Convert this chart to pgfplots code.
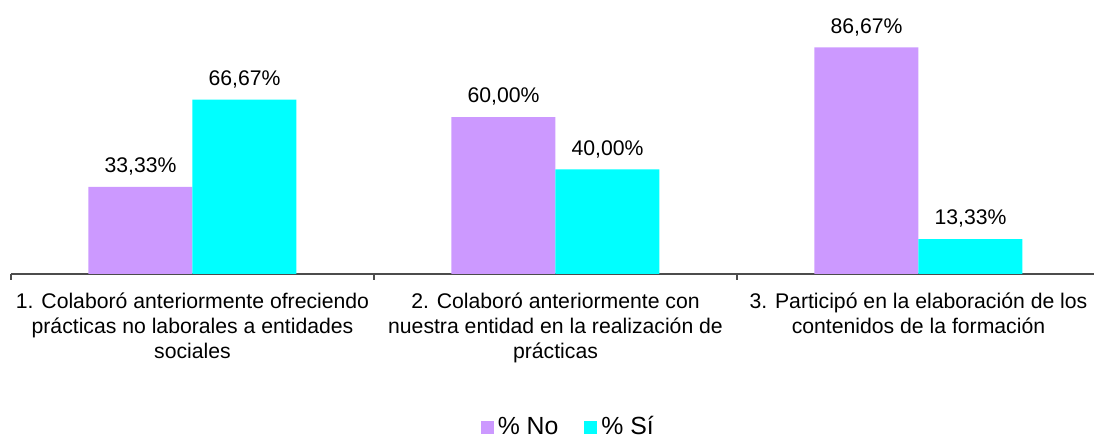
\documentclass[border=0pt]{standalone}
\usepackage{pgfplots}
\pgfplotsset{compat=1.18}
\usepackage{fontspec}
\setmainfont{Liberation Sans}
\definecolor{cNo}{HTML}{CC99FF}
\definecolor{cSi}{HTML}{00FFFF}
\begin{document}
\fontsize{10.6pt}{12.5pt}\selectfont
\begin{tikzpicture}
\path[use as bounding box] (-5.5pt,-81.5pt) rectangle (541.5pt,137pt);
\begin{axis}[
  at={(0,0)}, anchor=south west,
  scale only axis, width=541.5pt, height=130.8pt,
  ybar=0pt, bar width=52pt,
  xmin=-0.5, xmax=2.4835, ymin=0, ymax=100,
  enlargelimits=false, clip=false,
  axis y line=none, axis x line*=bottom,
  x axis line style={draw=black!70, line width=0.6pt, -},
  xtick={0,1,2},
  xticklabels={{1. Colaboró anteriormente ofreciendo\\prácticas no laborales a entidades\\sociales},
               {2. Colaboró anteriormente con\\nuestra entidad en la realización de\\prácticas},
               {3. Participó en la elaboración de los\\contenidos de la formación}},
  xticklabel style={align=center, font=\fontsize{10.6pt}{12.5pt}\selectfont, anchor=north, yshift=-1.5pt},
  x tick label as interval=false,
  xtick style={draw=none},
  extra x ticks={-0.5,0.5,1.5},
  extra x tick labels={},
  extra x tick style={tick align=outside, major tick length=3pt, xtick style={draw=black!70, line width=0.6pt}},
  /pgf/number format/assume math mode=true,
  nodes near coords={\pgfmathprintnumber[fixed,fixed zerofill,precision=2,use comma]{\pgfplotspointmeta}\%},
  nodes near coords style={anchor=south, yshift=2pt, font=\fontsize{10.6pt}{12.5pt}\selectfont, text=black},
  legend columns=2,
  legend style={at={(0.5155,-0.585)}, anchor=center, draw=none, fill=none,
    font=\fontsize{12.4pt}{14pt}\selectfont,
    /tikz/every odd column/.append style={inner xsep=0pt},
    /tikz/every even column/.append style={column sep=11pt},
    nodes={inner xsep=2pt}},
  legend image code/.code={\fill (0pt,-3.25pt) rectangle (6.5pt,3.25pt);},
]
\addplot[fill=cNo, draw=none] coordinates {(0,33.33) (1,60.00) (2,86.67)};
\addplot[fill=cSi, draw=none] coordinates {(0,66.67) (1,40.00) (2,13.33)};
\legend{\% No, \% Sí}
\end{axis}
\end{tikzpicture}
\end{document}
